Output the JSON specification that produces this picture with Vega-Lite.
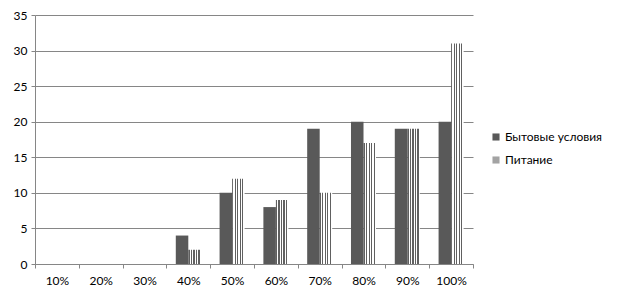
{
  "$schema": "https://vega.github.io/schema/vega-lite/v6.json",
  "autosize": {"type": "none"},
  "width": 438,
  "height": 249,
  "padding": {"left": 35, "top": 15, "right": 146, "bottom": 35},
  "background": "white",
  "config": {
    "font": "Lato",
    "view": {"stroke": null},
    "axis": {"labelFont": "Lato", "labelFontSize": 12, "labelColor": "#000000", "domainColor": "#868686", "tickColor": "#868686", "gridColor": "#868686", "titleFont": "Lato"},
    "legend": {"labelFont": "Lato", "labelFontSize": 12, "labelColor": "#000000"}
  },
  "data": {
    "values": [
      {"cat": "10%", "s": "Бытовые условия", "v": 0},
      {"cat": "10%", "s": "Питание", "v": 0},
      {"cat": "20%", "s": "Бытовые условия", "v": 0},
      {"cat": "20%", "s": "Питание", "v": 0},
      {"cat": "30%", "s": "Бытовые условия", "v": 0},
      {"cat": "30%", "s": "Питание", "v": 0},
      {"cat": "40%", "s": "Бытовые условия", "v": 4},
      {"cat": "40%", "s": "Питание", "v": 2},
      {"cat": "50%", "s": "Бытовые условия", "v": 10},
      {"cat": "50%", "s": "Питание", "v": 12},
      {"cat": "60%", "s": "Бытовые условия", "v": 8},
      {"cat": "60%", "s": "Питание", "v": 9},
      {"cat": "70%", "s": "Бытовые условия", "v": 19},
      {"cat": "70%", "s": "Питание", "v": 10},
      {"cat": "80%", "s": "Бытовые условия", "v": 20},
      {"cat": "80%", "s": "Питание", "v": 17},
      {"cat": "90%", "s": "Бытовые условия", "v": 19},
      {"cat": "90%", "s": "Питание", "v": 19},
      {"cat": "100%", "s": "Бытовые условия", "v": 20},
      {"cat": "100%", "s": "Питание", "v": 31}
    ]
  },
  "mark": {"type": "bar", "strokeWidth": 0},
  "encoding": {
    "x": {
      "field": "cat",
      "type": "nominal",
      "sort": null,
      "scale": {"paddingInner": 0, "paddingOuter": 0},
      "axis": {"title": null, "labelAngle": 0, "tickBand": "extent", "tickSize": 4, "labelPadding": 7, "grid": false, "domainColor": "#868686"}
    },
    "xOffset": {
      "field": "s",
      "type": "nominal",
      "sort": ["Бытовые условия", "Питание"],
      "scale": {"paddingInner": 0, "paddingOuter": 0.75}
    },
    "y": {
      "field": "v",
      "type": "quantitative",
      "scale": {"domain": [0, 35], "nice": false},
      "axis": {"title": null, "values": [0, 5, 10, 15, 20, 25, 30, 35], "tickSize": 4, "labelPadding": 4, "grid": true, "domain": true}
    },
    "fill": {
      "field": "s",
      "type": "nominal",
      "scale": {"domain": ["Бытовые условия", "Питание"], "range": ["#595959", "#a3a3a3"]},
      "legend": {"title": null, "orient": "none", "legendX": 455, "legendY": 116, "symbolType": "square", "symbolSize": 50, "symbolStrokeWidth": 0, "rowPadding": 11, "labelOffset": 3},
      "condition": {
        "test": "datum.s === 'Питание'",
        "value": {
          "gradient": "linear", "x1": 0, "y1": 0, "x2": 1, "y2": 0,
          "stops": [
            {"offset": 0, "color": "#606060"}, {"offset": 0.1, "color": "#606060"},
            {"offset": 0.1, "color": "#ffffff"}, {"offset": 0.2, "color": "#ffffff"},
            {"offset": 0.2, "color": "#606060"}, {"offset": 0.3, "color": "#606060"},
            {"offset": 0.3, "color": "#ffffff"}, {"offset": 0.4, "color": "#ffffff"},
            {"offset": 0.4, "color": "#606060"}, {"offset": 0.5, "color": "#606060"},
            {"offset": 0.5, "color": "#ffffff"}, {"offset": 0.6, "color": "#ffffff"},
            {"offset": 0.6, "color": "#606060"}, {"offset": 0.7, "color": "#606060"},
            {"offset": 0.7, "color": "#ffffff"}, {"offset": 0.8, "color": "#ffffff"},
            {"offset": 0.8, "color": "#606060"}, {"offset": 0.9, "color": "#606060"},
            {"offset": 0.9, "color": "#ffffff"}, {"offset": 1, "color": "#ffffff"}
          ]
        }
      }
    }
  }
}
